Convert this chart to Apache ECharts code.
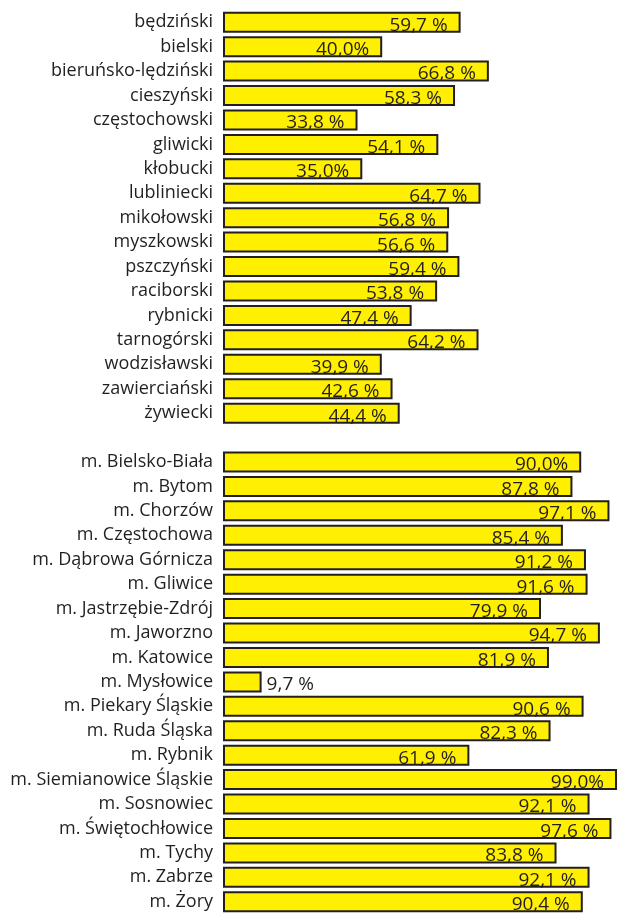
<!DOCTYPE html>
<html>
<head>
<meta charset="utf-8">
<script src="https://cdn.jsdelivr.net/npm/echarts@6/dist/echarts.min.js"></script>
<style>
html,body{margin:0;padding:0;background:#fff;}
#chart{width:621px;height:914px;}
</style>
</head>
<body>
<div id="chart"></div>
<script>
const categories = [
  'będziński','bielski','bieruńsko-lędziński','cieszyński','częstochowski','gliwicki','kłobucki',
  'lubliniecki','mikołowski','myszkowski','pszczyński','raciborski','rybnicki','tarnogórski',
  'wodzisławski','zawierciański','żywiecki',
  '',
  'm. Bielsko-Biała','m. Bytom','m. Chorzów','m. Częstochowa','m. Dąbrowa Górnicza','m. Gliwice',
  'm. Jastrzębie-Zdrój','m. Jaworzno','m. Katowice','m. Mysłowice','m. Piekary Śląskie',
  'm. Ruda Śląska','m. Rybnik','m. Siemianowice Śląskie','m. Sosnowiec','m. Świętochłowice',
  'm. Tychy','m. Zabrze','m. Żory'
];
const values = [
  59.7, 40.0, 66.8, 58.3, 33.8, 54.1, 35.0, 64.7, 56.8, 56.6, 59.4, 53.8, 47.4, 64.2, 39.9, 42.6, 44.4,
  null,
  90.0, 87.8, 97.1, 85.4, 91.2, 91.6, 79.9, 94.7, 81.9, 9.7, 90.6, 82.3, 61.9, 99.0, 92.1, 97.6, 83.8, 92.1, 90.4
];
const valueLabels = [
  '59,7 %','40,0%','66,8 %','58,3 %','33,8 %','54,1 %','35,0%','64,7 %','56,8 %','56,6 %','59,4 %',
  '53,8 %','47,4 %','64,2 %','39,9 %','42,6 %','44,4 %',
  '',
  '90,0%','87,8 %','97,1 %','85,4 %','91,2 %','91,6 %','79,9 %','94,7 %','81,9 %','9,7 %','90,6 %',
  '82,3 %','61,9 %','99,0%','92,1 %','97,6 %','83,8 %','92,1 %','90,4 %'
];
const outsideLabelMax = 20;

const FONT = '"Open Sans", sans-serif';
const TEXT = '#231f20';

const data = values.map((v, i) => {
  if (v === null) return null;
  const item = { value: v };
  if (v < outsideLabelMax) {
    item.label = { position: 'right', distance: 5, offset: [0, 3] };
  }
  return item;
});

const chart = echarts.init(document.getElementById('chart'), null, { renderer: 'canvas' });
chart.setOption({
  animation: false,
  backgroundColor: '#fff',
  grid: { left: 223, width: 406, top: 10, bottom: -4, containLabel: false },
  xAxis: {
    type: 'value', min: 0, max: 100, show: false
  },
  yAxis: {
    type: 'category', data: categories, inverse: true,
    axisLine: { show: false }, axisTick: { show: false },
    axisLabel: { color: TEXT, fontFamily: FONT, fontSize: 18, margin: 10 }
  },
  series: [{
    type: 'bar',
    data: data,
    barWidth: 21,
    itemStyle: { color: '#ffef00', borderColor: '#231f20', borderWidth: 2 },
    label: {
      show: true,
      position: 'insideRight',
      distance: 5,
      offset: [-8, 3],
      color: TEXT,
      fontFamily: FONT,
      fontSize: 19,
      formatter: p => valueLabels[p.dataIndex]
    }
  }]
});
</script>
</body>
</html>
